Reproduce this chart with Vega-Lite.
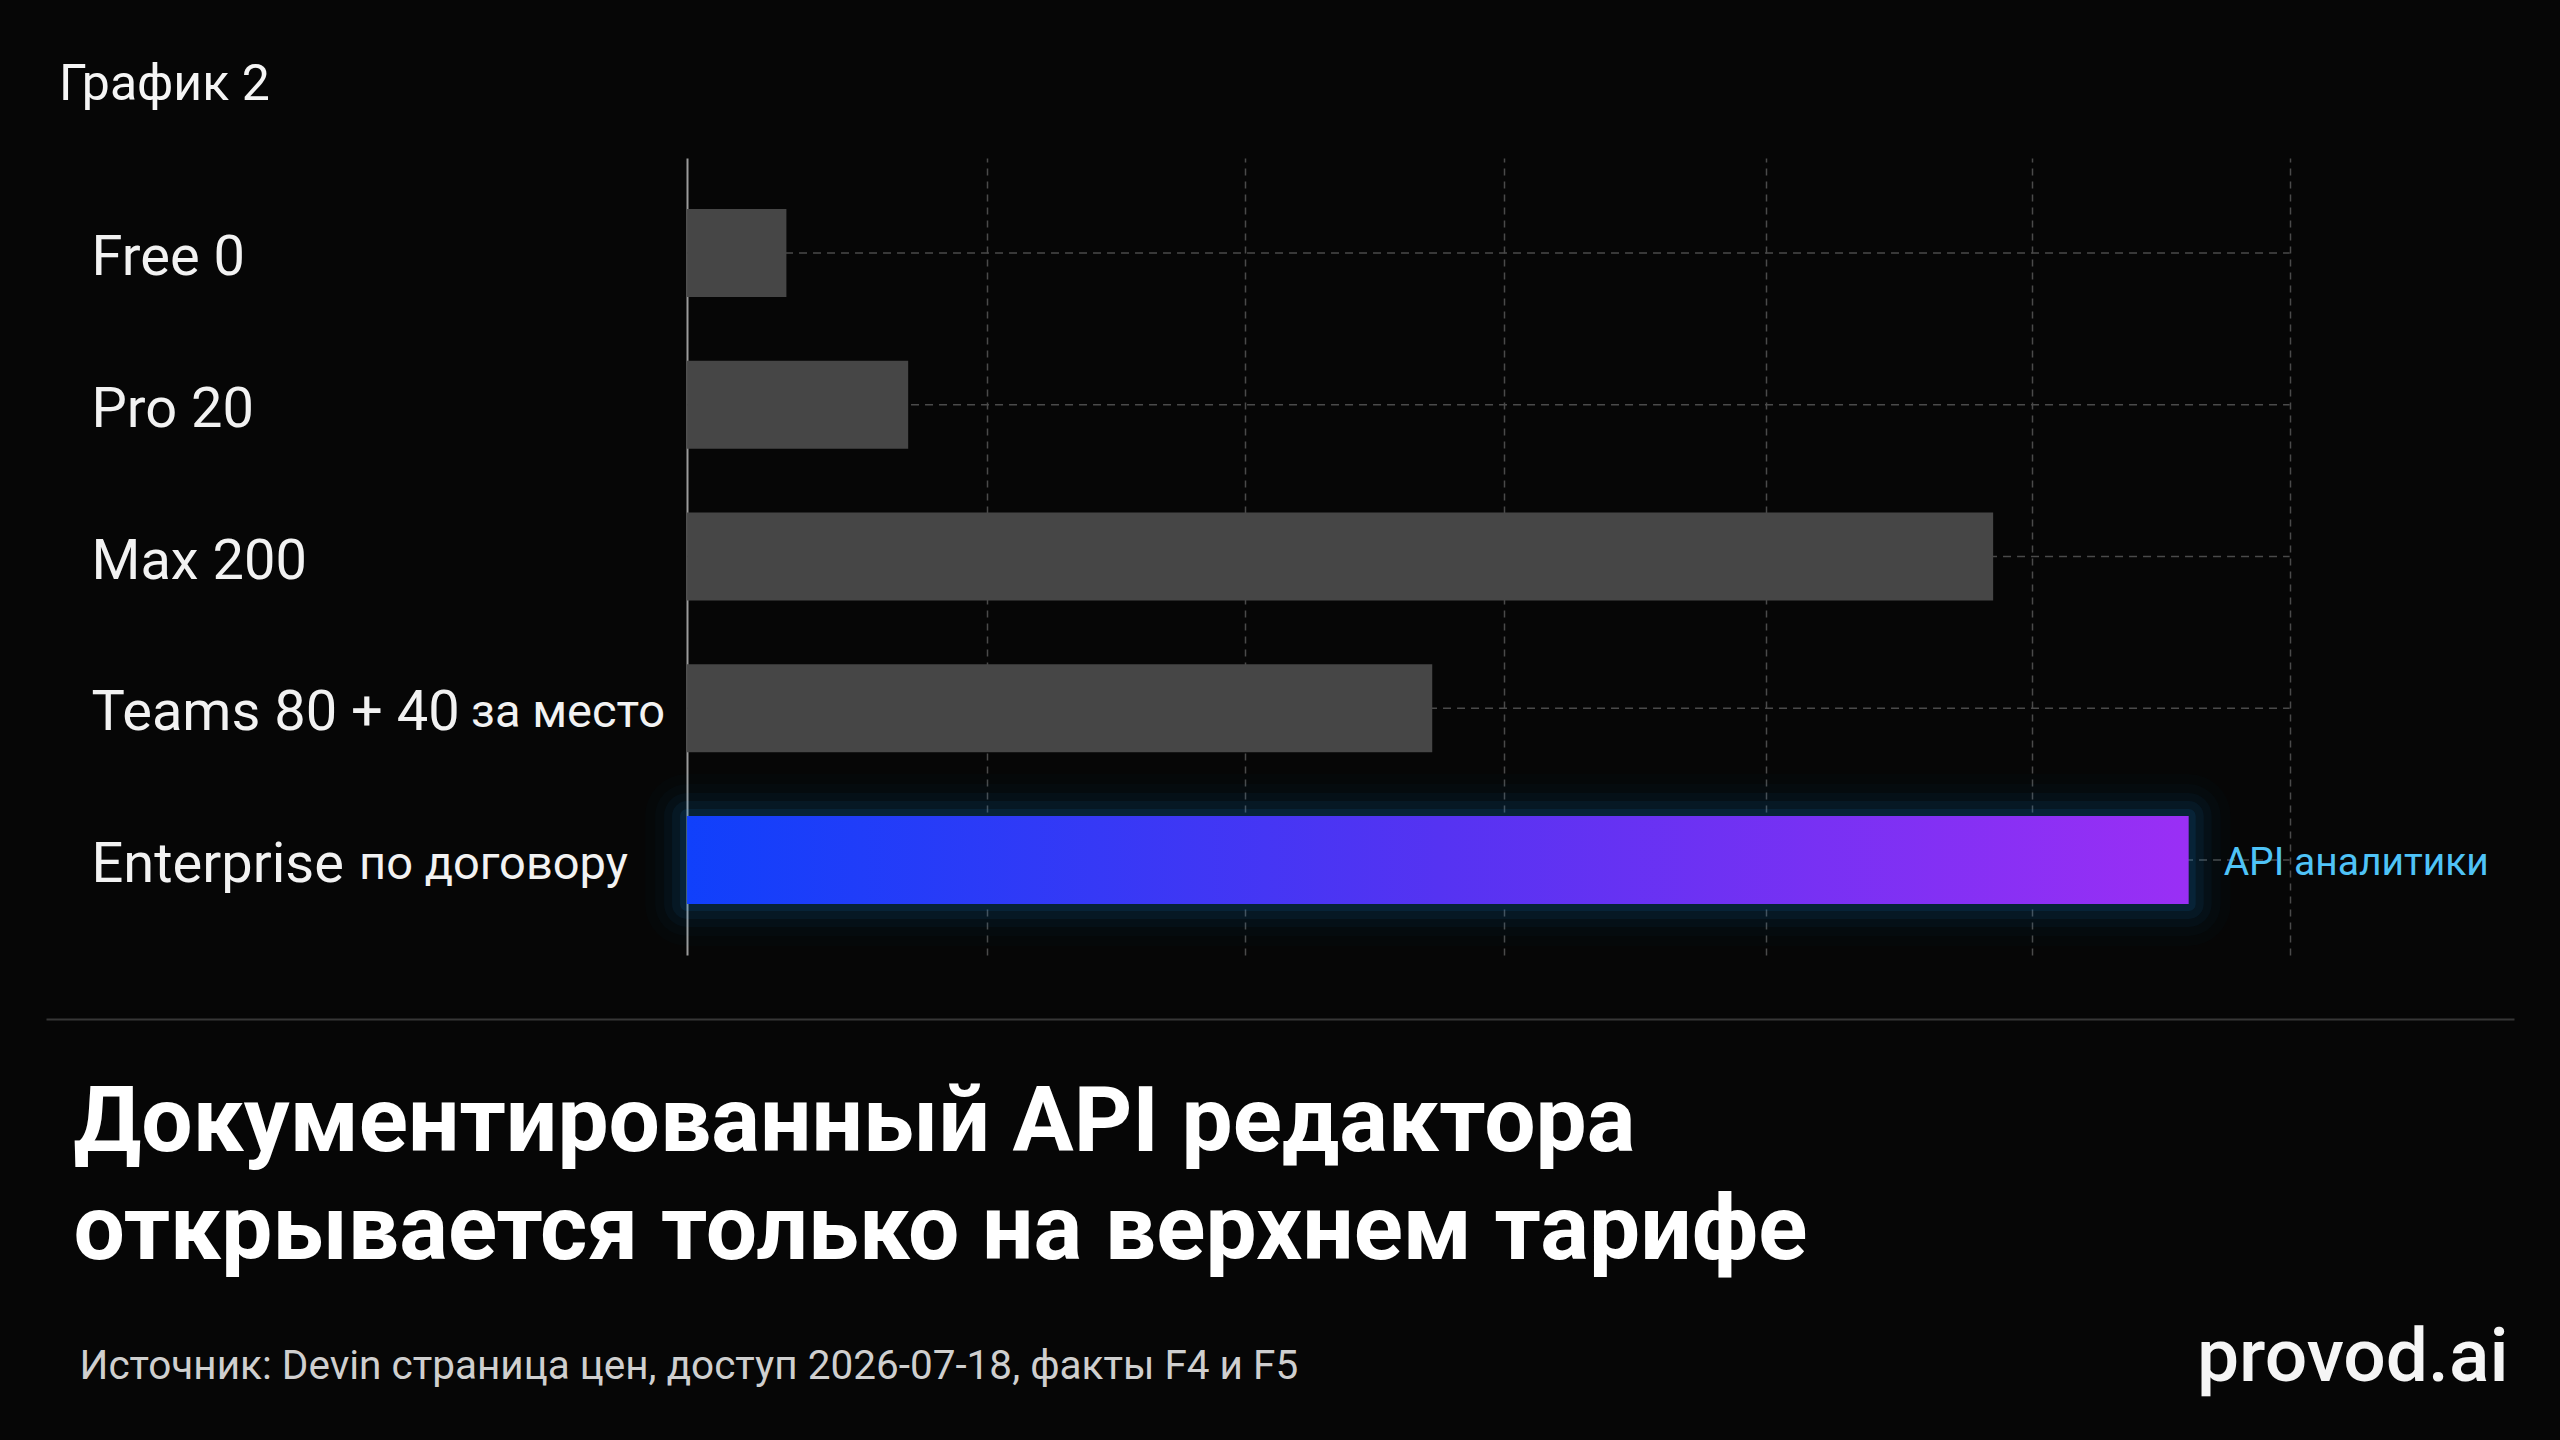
{
  "$schema": "https://vega.github.io/schema/vega-lite/v6.json",
  "description": "Devin plans: only the top tier opens the documented editor API",
  "width": 2468,
  "height": 797,
  "autosize": {"type": "none"},
  "padding": {"left": 46, "top": 158, "right": 46, "bottom": 485},
  "background": "#060606",
  "title": {
    "text": "График 2",
    "orient": "top",
    "anchor": "start",
    "frame": "group",
    "dx": 13,
    "offset": 8,
    "baseline": "alphabetic",
    "font": "Roboto",
    "fontSize": 50,
    "fontWeight": "normal",
    "color": "#f5f5f5"
  },
  "data": {
    "values": [
      {"tier": "Free 0", "note": "", "api": "", "score": 6.2},
      {"tier": "Pro 20", "note": "", "api": "", "score": 13.8},
      {"tier": "Max 200", "note": "", "api": "", "score": 81.5},
      {"tier": "Teams 80 + 40", "note": "за место", "api": "", "score": 46.5},
      {"tier": "Enterprise", "note": "по договору", "api": "API аналитики", "score": 93.7}
    ]
  },
  "resolve": {"axis": {"x": "independent", "y": "independent"}},
  "layer": [
    {
      "mark": {"type": "rule", "color": "#4a4a4a", "strokeWidth": 1.5, "strokeDash": [8, 6]},
      "encoding": {
        "y": {"field": "tier", "type": "nominal", "sort": null, "axis": null},
        "x": {"datum": 0, "type": "quantitative", "axis": null},
        "x2": {"datum": 100}
      }
    },
    {
      "transform": [{"filter": "datum.api === ''"}],
      "mark": {"type": "bar", "color": "#464646"},
      "encoding": {
        "y": {
          "field": "tier",
          "type": "nominal",
          "sort": null,
          "scale": {"paddingInner": 0.42, "paddingOuter": 0.336},
          "axis": {
            "orient": "left",
            "offset": -45,
            "domain": false,
            "ticks": false,
            "tickSize": 0,
            "grid": false,
            "labelAlign": "left",
            "labelBaseline": "middle",
            "labelPadding": 0,
            "labelOffset": 5,
            "labelFont": "Roboto",
            "labelFontSize": 56,
            "labelColor": "#f2f2f2",
            "labelLimit": 0,
            "title": "Источник: Devin страница цен, доступ 2026-07-18, факты F4 и F5",
            "titleAngle": 0,
            "titleAlign": "left",
            "titleBaseline": "alphabetic",
            "titleX": -12,
            "titleY": 1220,
            "titleFont": "Roboto",
            "titleFontSize": 40.5,
            "titleFontWeight": "normal",
            "titleColor": "#cfcfcf"
          }
        },
        "x": {
          "field": "score",
          "type": "quantitative",
          "scale": {"domain": [-40, 114], "nice": false, "zero": false},
          "axis": {
            "orient": "bottom",
            "offset": 64,
            "values": [0, 18.7, 34.8, 51, 67.3, 83.9, 100],
            "labels": false,
            "ticks": false,
            "domain": true,
            "domainColor": "#363636",
            "domainWidth": 2,
            "grid": true,
            "gridColor": {"condition": {"test": "datum.value === 0", "value": "#9a9a9a"}, "value": "#4a4a4a"},
            "gridDash": {"condition": {"test": "datum.value === 0", "value": []}, "value": [7, 6]},
            "gridWidth": {"condition": {"test": "datum.value === 0", "value": 2}, "value": 1.5},
            "title": ["Документированный API редактора", "открывается только на верхнем тарифе"],
            "titleAnchor": "start",
            "titleAlign": "left",
            "titleBaseline": "alphabetic",
            "titleX": 27,
            "titleY": 131,
            "titleFont": "Roboto",
            "titleFontSize": 91,
            "titleFontWeight": "bold",
            "titleColor": "#ffffff",
            "titleLineHeight": 108
          }
        }
      }
    },
    {
      "transform": [{"filter": "datum.api !== ''"}],
      "mark": {"type": "bar", "fillOpacity": 0, "stroke": "#1aa0ff", "strokeOpacity": 0.015, "strokeWidth": 84, "strokeJoin": "round"},
      "encoding": {
        "y": {"field": "tier", "type": "nominal", "sort": null, "axis": null},
        "x": {"field": "score", "type": "quantitative", "axis": null}
      }
    },
    {
      "transform": [{"filter": "datum.api !== ''"}],
      "mark": {"type": "bar", "fillOpacity": 0, "stroke": "#1aa0ff", "strokeOpacity": 0.025, "strokeWidth": 64, "strokeJoin": "round"},
      "encoding": {
        "y": {"field": "tier", "type": "nominal", "sort": null, "axis": null},
        "x": {"field": "score", "type": "quantitative", "axis": null}
      }
    },
    {
      "transform": [{"filter": "datum.api !== ''"}],
      "mark": {"type": "bar", "fillOpacity": 0, "stroke": "#1aa0ff", "strokeOpacity": 0.04, "strokeWidth": 46, "strokeJoin": "round"},
      "encoding": {
        "y": {"field": "tier", "type": "nominal", "sort": null, "axis": null},
        "x": {"field": "score", "type": "quantitative", "axis": null}
      }
    },
    {
      "transform": [{"filter": "datum.api !== ''"}],
      "mark": {"type": "bar", "fillOpacity": 0, "stroke": "#1aa0ff", "strokeOpacity": 0.06, "strokeWidth": 30, "strokeJoin": "round"},
      "encoding": {
        "y": {"field": "tier", "type": "nominal", "sort": null, "axis": null},
        "x": {"field": "score", "type": "quantitative", "axis": null}
      }
    },
    {
      "transform": [{"filter": "datum.api !== ''"}],
      "mark": {"type": "bar", "fillOpacity": 0, "stroke": "#1aa0ff", "strokeOpacity": 0.09, "strokeWidth": 14, "strokeJoin": "round"},
      "encoding": {
        "y": {"field": "tier", "type": "nominal", "sort": null, "axis": null},
        "x": {"field": "score", "type": "quantitative", "axis": null}
      }
    },
    {
      "transform": [{"filter": "datum.api !== ''"}],
      "mark": {
        "type": "bar",
        "fill": {
          "gradient": "linear",
          "x1": 0, "y1": 0, "x2": 1, "y2": 0,
          "stops": [
            {"offset": 0, "color": "#1040fb"},
            {"offset": 0.5, "color": "#5533f2"},
            {"offset": 1, "color": "#9a2ff5"}
          ]
        }
      },
      "encoding": {
        "y": {
          "field": "tier",
          "type": "nominal",
          "sort": null,
          "axis": {
            "orient": "right",
            "domain": false,
            "ticks": false,
            "tickSize": 0,
            "labels": false,
            "grid": false,
            "title": "provod.ai",
            "titleAngle": 0,
            "titleAlign": "right",
            "titleBaseline": "alphabetic",
            "titleX": -6,
            "titleY": 1222,
            "titleFont": "Roboto",
            "titleFontSize": 75,
            "titleFontWeight": 500,
            "titleColor": "#f5f5f5"
          }
        },
        "x": {"field": "score", "type": "quantitative", "axis": null}
      }
    },
    {
      "transform": [{"filter": "datum.api !== ''"}],
      "mark": {"type": "text", "align": "left", "baseline": "middle", "dx": 35, "dy": 3, "font": "Roboto", "fontSize": 39, "color": "#4fc3f7"},
      "encoding": {
        "y": {"field": "tier", "type": "nominal", "sort": null, "axis": null},
        "x": {"field": "score", "type": "quantitative", "axis": null},
        "text": {"field": "api"}
      }
    },
    {
      "transform": [{"filter": {"field": "tier", "equal": "Teams 80 + 40"}}],
      "mark": {"type": "text", "align": "left", "baseline": "middle", "dx": -216, "dy": 5, "font": "Roboto", "fontSize": 47, "color": "#f2f2f2"},
      "encoding": {
        "y": {"field": "tier", "type": "nominal", "sort": null, "axis": null},
        "x": {"datum": 0, "type": "quantitative", "axis": null},
        "text": {"field": "note"}
      }
    },
    {
      "transform": [{"filter": {"field": "tier", "equal": "Enterprise"}}],
      "mark": {"type": "text", "align": "left", "baseline": "middle", "dx": -328, "dy": 5, "font": "Roboto", "fontSize": 47, "color": "#f2f2f2"},
      "encoding": {
        "y": {"field": "tier", "type": "nominal", "sort": null, "axis": null},
        "x": {"datum": 0, "type": "quantitative", "axis": null},
        "text": {"field": "note"}
      }
    }
  ],
  "config": {
    "font": "Roboto",
    "view": {"stroke": null}
  }
}
